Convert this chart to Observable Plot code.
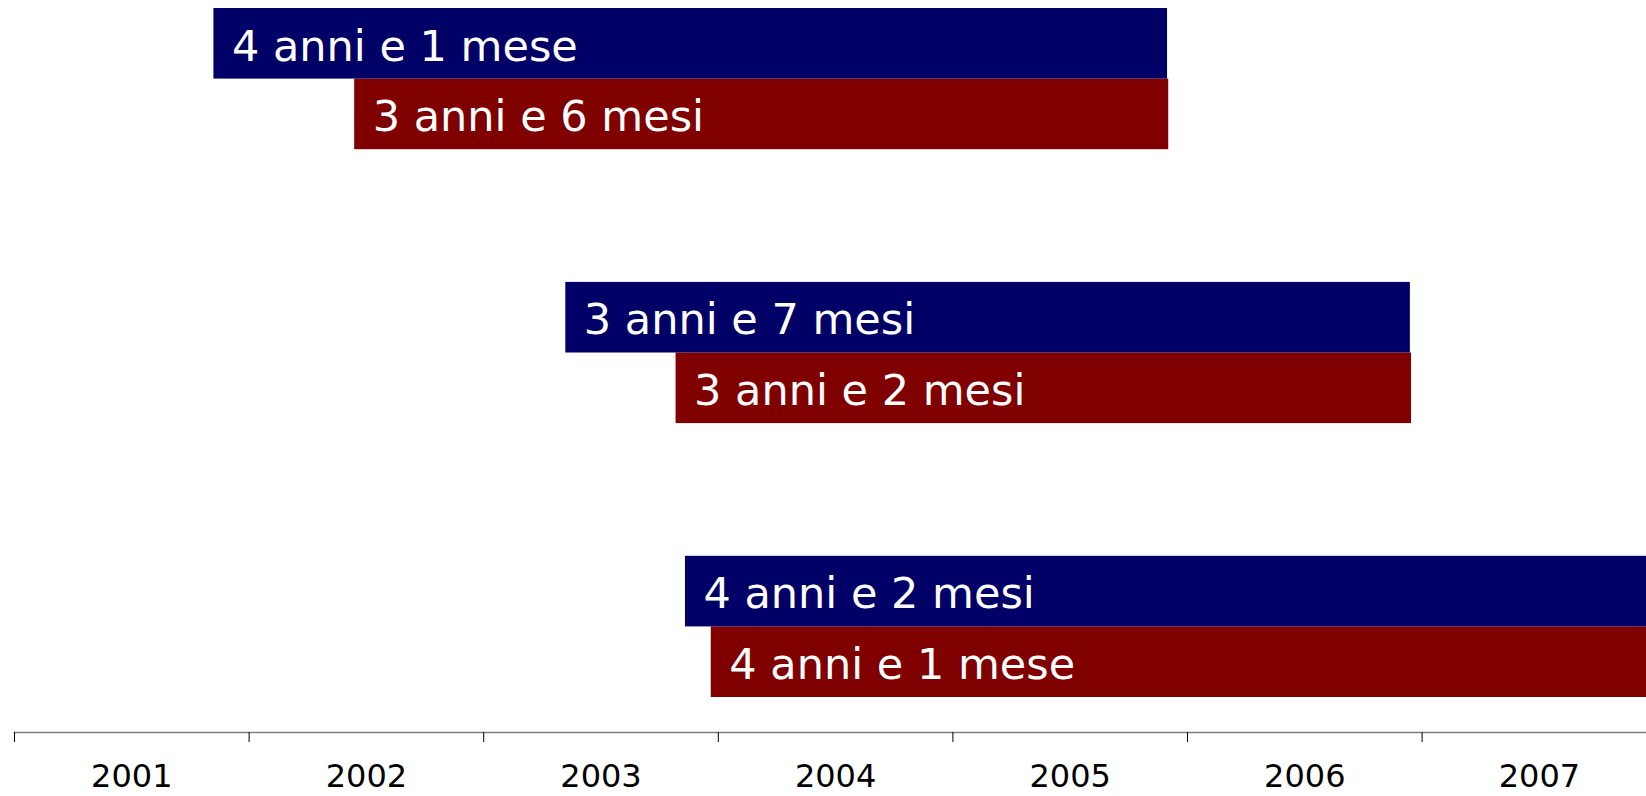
<!DOCTYPE html>
<html>
<head>
<meta charset="utf-8">
<script src="https://cdn.jsdelivr.net/npm/d3@7"></script>
<script src="https://cdn.jsdelivr.net/npm/@observablehq/plot@0.6"></script>
<style>
  html, body { margin: 0; padding: 0; background: #fff; }
  svg { display: block; }
</style>
</head>
<body>
<div id="chart"></div>
<script>
// categories (three comparisons, top to bottom)
const groups = ["A", "B", "C"];
// series 1 (blue): start / end in decimal years
const blueStart = [2001.85, 2003.35, 2003.86];
const blueEnd   = [2005.915, 2006.95, 2008.03];
const blueLabels = ["4 anni e 1 mese", "3 anni e 7 mesi", "4 anni e 2 mesi"];
// series 2 (red): start / end in decimal years
const redStart = [2002.45, 2003.82, 2003.97];
const redEnd   = [2005.92, 2006.955, 2008.05];
const redLabels = ["3 anni e 6 mesi", "3 anni e 2 mesi", "4 anni e 1 mese"];
// axis years
const years = [2001, 2002, 2003, 2004, 2005, 2006, 2007];

const blue = groups.map((g, i) => ({group: g, start: blueStart[i], end: blueEnd[i], label: blueLabels[i]}));
const red = groups.map((g, i) => ({group: g, start: redStart[i], end: redEnd[i], label: redLabels[i]}));

const W = 1646, H = 796;
const yTop = 8, yBottom = 697;
const padInner = 0.4845;
const step = (yBottom - yTop) / (groups.length - padInner);
const bw = step * (1 - padInner);
const half = bw / 2;

const font = "DejaVu Sans, Verdana, sans-serif";

const chart = Plot.plot({
  width: W,
  height: H,
  marginLeft: 14,
  marginRight: 0,
  marginTop: yTop,
  marginBottom: 64,
  style: {fontFamily: font, background: "#fff"},
  x: {type: "linear", domain: [2001, 2001 + (W - 14) / 234.6], axis: null},
  y: {type: "band", domain: groups, range: [yTop, yBottom], paddingInner: padInner, paddingOuter: 0, axis: null, round: false},
  marks: [
    Plot.barX(red, {x1: "start", x2: "end", y: "group", fill: "#800000", insetTop: half, clip: true}),
    Plot.barX(blue, {x1: "start", x2: "end", y: "group", fill: "#000066", insetBottom: half, clip: true}),
    Plot.text(blue, {x: "start", y: "group", text: "label", textAnchor: "start", dx: 18, dy: -half / 2 + 3, fill: "white", fontSize: 43, fontFamily: font}),
    Plot.text(red, {x: "start", y: "group", text: "label", textAnchor: "start", dx: 18, dy: half / 2 + 3, fill: "white", fontSize: 43, fontFamily: font}),
    Plot.frame({anchor: "bottom", stroke: "#808080", strokeWidth: 1.6}),
    Plot.axisX({ticks: years, tickSize: 10, tickFormat: () => "", stroke: "#000", strokeWidth: 1}),
    Plot.axisX({ticks: years.map(y => y + 0.5), tickSize: 0, tickPadding: 32, tickFormat: d => String(Math.floor(d)), fontSize: 32, fontFamily: font, fill: "#000"})
  ]
});

document.getElementById("chart").appendChild(chart);
</script>
</body>
</html>
